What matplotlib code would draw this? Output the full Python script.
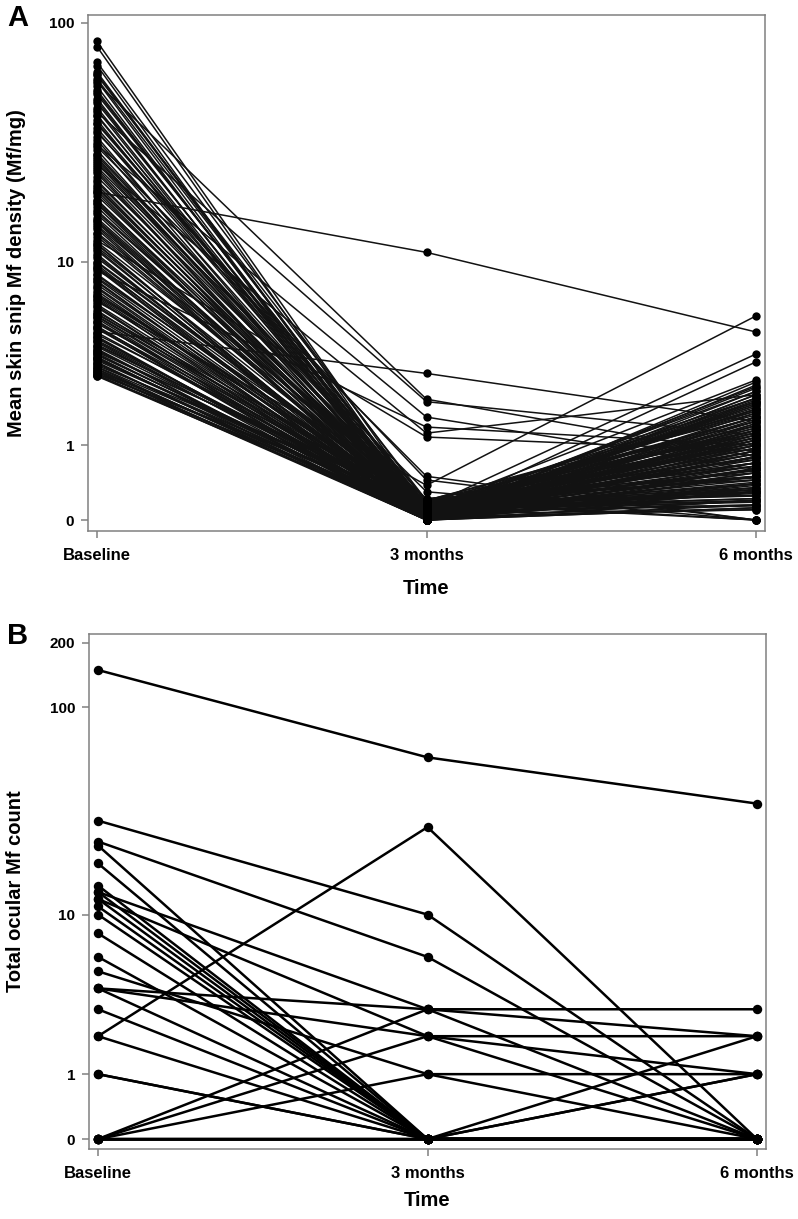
import matplotlib
matplotlib.use('Agg')
import matplotlib.pyplot as plt
import numpy as np

plt.rcParams['font.family'] = ['Liberation Sans', 'DejaVu Sans']
plt.rcParams['font.weight'] = 'bold'

# ---------------- data ----------------
time_labels = ['Baseline', '3 months', '6 months']

# Panel A: mean skin snip Mf density (Mf/mg), one entry per subject
A_base = [84, 80, 69, 67, 63, 61, 59, 57, 55, 53,
          51, 49, 47, 45, 43, 41.5, 40, 38.5, 37, 35.5,
          34, 33, 31.5, 30, 29, 28, 27, 26, 25, 24,
          23.2, 22.4, 21.5, 20.7, 20, 19.3, 18.6, 18, 17.3, 16.7,
          16.1, 15.5, 15, 14.4, 13.9, 13.4, 12.9, 12.4, 12, 11.6,
          11.2, 10.8, 10.4, 10, 9.7, 9.4, 9.1, 8.8, 8.5, 8.2,
          7.9, 7.7, 7.4, 7.2, 7, 6.8, 6.6, 6.4, 6.2, 6,
          5.8, 5.65, 5.5, 5.35, 5.2, 5.05, 4.9, 4.75, 4.6, 4.5,
          4.4, 4.3, 4.2, 4.1, 4, 3.9, 3.8, 3.7, 3.62, 3.55,
          3.48, 3.4, 3.33, 3.26, 3.2, 3.13, 3.07, 3.0, 2.95, 2.9,
          2.85, 2.82, 2.8, 25.5, 20.3,
          62, 58, 52, 48, 44, 39, 36, 32, 28.5, 26.5,
          24.5, 22, 19.8, 17.8, 16.4, 15.2, 14.2, 13.2, 12.2, 11.4,
          10.6, 9.9, 9.3, 8.7, 8.1, 7.6, 7.1, 6.7, 6.3, 5.9,
          5.6, 5.3, 5.0, 4.7, 4.45, 4.25, 4.05, 3.85, 3.65, 3.45,
          3.3, 3.15, 3.05, 2.98, 2.88, 2.83, 31, 21, 14.8, 9.5,
          6.9, 4.95, 3.75, 3.52, 42, 27.5, 18.3, 11.9, 8.4, 5.75]
A_m3 = [0.1, 0.05, 0.17, 0, 0.08, 0.2, 0.12, 2.07, 0, 0.06,
        0.15, 0, 0.1, 0.03, 2.0, 0.08, 0, 0.2, 0.13, 0.45,
        0, 0.1, 1.6, 0.05, 0.17, 0, 0.08, 1.24, 0.12, 0,
        0.2, 0.06, 0, 0.1, 11, 0.15, 0, 0.08, 0.03, 0.13,
        0, 0.1, 0.05, 0.17, 0, 0.22, 0.08, 1.16, 0, 0.12,
        0.06, 0, 0.1, 0.15, 0, 0.03, 1.37, 0.08, 0.2, 0,
        0.1, 0.05, 0, 0.13, 0.17, 0, 0.38, 0.08, 0.03, 0,
        0.12, 0.1, 0, 0.06, 0.15, 0, 0.08, 2.9, 0.2, 0,
        0.05, 0.1, 0, 0.13, 0.08, 0, 0.17, 0.03, 0.1, 0,
        0.06, 0.12, 0, 0.08, 0.2, 0, 0.05, 0.1, 0, 0.15,
        0, 0.08, 0.03, 0.3, 0,
        0.08, 0, 0.13, 0.05, 0, 0.2, 0.1, 0, 0.15, 0.03,
        0, 0.12, 0.06, 0, 0.17, 0.1, 0, 0.08, 0.22, 0,
        0.05, 0.13, 0, 0.1, 0.03, 0, 0.15, 0.08, 0, 0.2,
        0.06, 0, 0.12, 0.1, 0, 0.05, 0.17, 0, 0.08, 0.13,
        0, 0.1, 0.03, 0, 0.15, 0.06, 0.5, 0.1, 0, 0.12,
        0.08, 0, 0.2, 0.05, 0, 0.1, 0.13, 0, 0.06, 0.17]
A_m6 = [0.5, 1.2, 0.3, 2.1, 0.8, 0, 1.6, 0.8, 0.4, 1.9,
        0.25, 1.1, 0.6, 2.4, 1.2, 0.15, 0.9, 1.4, 0.35, 0,
        1.7, 0.7, 0.6, 0.2, 1.3, 2.0, 0.45, 2.2, 1.0, 0.3,
        0.55, 1.8, 0.12, 0.85, 4.73, 1.5, 0.4, 2.3, 0.65, 1.05,
        0.2, 1.35, 0.75, 0, 1.9, 0.5, 1.15, 0.9, 2.6, 0.3,
        0.95, 1.6, 0.18, 1.25, 0.6, 2.1, 1.0, 0.42, 1.75, 0.8,
        0.28, 3.34, 1.45, 0.7, 1.1, 0.35, 5.65, 1.85, 0.1, 0.55,
        1.3, 0.22, 2.0, 0.9, 0.48, 1.55, 0.15, 1.5, 1.2, 0.62,
        2.45, 0.32, 1.05, 3.67, 0.78, 1.4, 0.26, 1.95, 0.58, 1.15,
        0.4, 2.67, 0.85, 0.14, 1.65, 0.7, 1.25, 0.2, 2.2, 0.95,
        0.5, 1.8, 0.3, 0, 1.1,
        1.3, 0.6, 2.0, 0.35, 1.0, 0.75, 1.6, 0.2, 1.15, 0.5,
        2.3, 0.9, 0.3, 1.45, 0.65, 1.8, 0.15, 1.05, 0.45, 1.25,
        0.8, 2.1, 0.38, 1.35, 0.55, 0.12, 1.7, 0.85, 1.95, 0.25,
        1.1, 0.7, 1.5, 0.4, 2.5, 0.95, 0.18, 1.2, 0.6, 1.4,
        0.3, 1.0, 0.8, 2.2, 0.5, 1.6, 0, 0.65, 1.3, 0.22,
        1.75, 0.9, 0.45, 1.15, 2.05, 0.33, 0.7, 1.5, 0.1, 1.0]

# Panel B: total ocular Mf count, one entry per subject
B_base = [149, 29, 23, 22, 18, 14, 13, 13, 12, 12, 11, 10, 8, 6, 5,
          4, 4, 4, 3, 2, 2, 1, 1, 0, 0, 0, 0, 0, 0, 0]
B_m3 = [58, 10, 6, 0, 0, 0, 0, 3, 0, 2, 0, 0, 0, 0, 1,
        3, 2, 0, 0, 27, 0, 0, 0, 3, 2, 1, 0, 0, 0, 0]
B_m6 = [35, 0, 0, 0, 0, 0, 0, 2, 0, 0, 0, 0, 0, 0, 0,
        3, 1, 0, 0, 0, 0, 0, 1, 0, 2, 1, 2, 1, 0, 0]

A_yticks = [0, 1, 10, 100]
B_yticks = [0, 1, 10, 100, 200]


def fwd(y):
    y = np.asarray(y, dtype=float)
    return np.log10(np.clip(y + 1, 1e-6, None))


def inv(t):
    return 10 ** np.asarray(t, dtype=float) - 1


W, H = 798, 1219
fig = plt.figure(figsize=(W / 100, H / 100), dpi=100)
axA = fig.add_axes([88 / W, 1 - 531 / H, 677 / W, 516 / H])
axB = fig.add_axes([89 / W, 1 - 1149 / H, 677 / W, 515 / H])

xs = [0, 1, 2]
spine_col = '#808080'


def draw(ax, base, m3, m6, lw, ms, lcol):
    for b, a, c in zip(base, m3, m6):
        ax.plot(xs, [b, a, c], color=lcol, lw=lw, zorder=2,
                solid_capstyle='round')
    for b, a, c in zip(base, m3, m6):
        ax.plot(xs, [b, a, c], linestyle='none', marker='o', ms=ms,
                color='black', markeredgewidth=0, zorder=3)


draw(axA, A_base, A_m3, A_m6, 1.1, 6.0, '#121212')
draw(axB, B_base, B_m3, B_m6, 1.8, 6.8, 'black')

for ax, ylim, yt, ylab in [
        (axA, (-0.097, 107.7), A_yticks, 'Mean skin snip Mf density (Mf/mg)'),
        (axB, (-0.101, 219.4), B_yticks, 'Total ocular Mf count')]:
    ax.set_yscale('function', functions=(fwd, inv))
    ax.set_ylim(*ylim)
    ax.set_xlim(-0.0274, 2.0274)
    ax.set_yticks(yt)
    ax.set_yticklabels([str(v) for v in yt])
    ax.minorticks_off()
    ax.set_xticks(xs)
    ax.set_xticklabels(time_labels)
    for s in ax.spines.values():
        s.set_color(spine_col)
        s.set_linewidth(1.1)
    ax.tick_params(axis='y', labelsize=11, length=5, width=1.1,
                   color=spine_col, pad=5)
    ax.tick_params(axis='x', labelsize=12, length=5, width=1.1,
                   color=spine_col, pad=7)
    ax.set_ylabel(ylab, fontsize=14.5, fontweight='bold', va='center')
    ax.set_xlabel('Time', fontsize=14.5, fontweight='bold', va='center')

axA.yaxis.set_label_coords((17 - 88) / 677, 0.5)
axB.yaxis.set_label_coords((16 - 89) / 677, 0.5)
axA.xaxis.set_label_coords(0.5, (531 - 588) / 516)
axB.xaxis.set_label_coords(0.5, (1149 - 1200) / 515)

fig.text(7 / W, 1 - 4 / H, 'A', fontsize=21, fontweight='bold',
         ha='left', va='top')
fig.text(7 / W, 1 - 622 / H, 'B', fontsize=21, fontweight='bold',
         ha='left', va='top')

fig.savefig('out.png', dpi=100)
